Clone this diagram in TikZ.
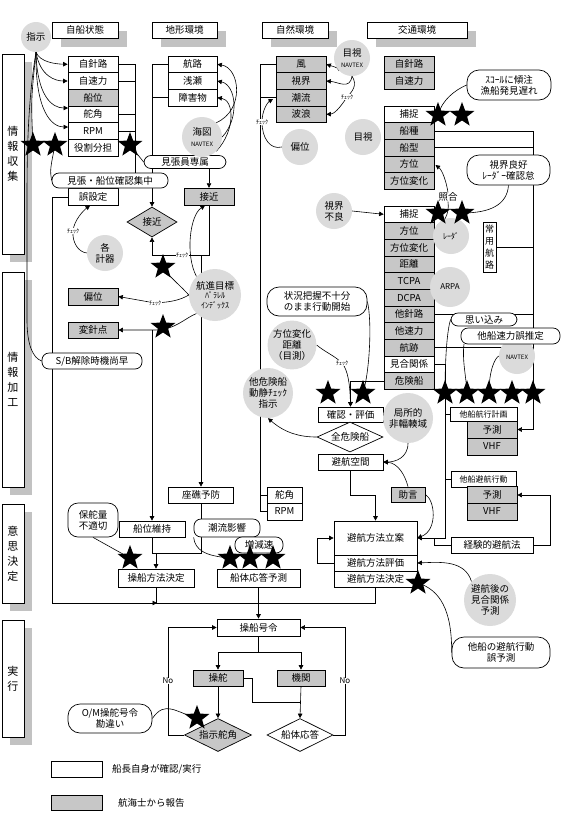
\documentclass[tikz,border=0pt]{standalone}
\usepackage{fontspec}
\newfontfamily\jp{Noto Sans CJK JP}
\usetikzlibrary{shapes.geometric,arrows.meta}
\pgfdeclarelayer{back}
\pgfdeclarelayer{lines}
\pgfsetlayers{back,lines,main}
\definecolor{gfill}{gray}{0.78}
\definecolor{bfill}{gray}{0.86}
\definecolor{sfill}{gray}{0.76}
\newcommand\jpA{\jp\fontsize{9.5}{11}\selectfont}
\newcommand\jpB{\jp\fontsize{11}{15}\selectfont}
\newcommand\jpS{\jp\fontsize{8}{9.5}\selectfont}
\newcommand\jpT{\jp\fontsize{6}{7}\selectfont}
\begin{document}
\begin{tikzpicture}[x=1pt,y=-1pt,
 ln/.style={line width=0.6pt},
 arr/.style={ln,-{Triangle[length=4.5pt,width=4.5pt]}},
 bx/.style={draw,line width=0.7pt,fill=white,inner sep=0pt,minimum height=16.7,minimum width=50,font=\jpA},
 gb/.style={bx,fill=gfill},
 hd/.style={bx,minimum height=16},
 sbx/.style={draw,line width=0.7pt,fill=white,inner sep=0pt,minimum width=22,align=center,font=\jpB},
 rb/.style={draw,line width=0.7pt,fill=white,rounded corners=7pt,inner sep=0pt,font=\jpA,align=center},
 rbb/.style={rb,rounded corners=12pt},
 cb/.style={circle,fill=bfill,inner sep=0pt,font=\jpA,align=center},
 stl/.style={star,star points=5,star point ratio=2.4,fill=black,inner sep=0pt,minimum size=26},
 dm/.style={diamond,draw,line width=0.7pt,fill=white,inner sep=0pt,aspect=2,font=\jpA},
 lbl/.style={font=\jpT,fill=white,inner sep=0.5pt},
 txt/.style={font=\jpA,inner sep=0pt}
]
\useasboundingbox (0,0) rectangle (562,820);

% ---------- side bar and shadows ----------
\begin{pgfonlayer}{back}
\fill[white] (0,0) rectangle (562,820);
\fill[sfill] (10,62) rectangle (32,262);
\fill[sfill] (10,280) rectangle (32,495);
\fill[sfill] (10,512) rectangle (32,611);
\fill[sfill] (10,628) rectangle (32,745);
\fill[sfill] (61,31) rectangle (127,47);
\fill[sfill] (161,31) rectangle (226,47);
\fill[sfill] (271,31) rectangle (337,47);
\fill[sfill] (376,31) rectangle (476,47);
\node[sbx,minimum height=200] (v1) at (13,154) {情\\報\\収\\集};
\node[sbx,minimum height=215] (v2) at (13,379.5) {情\\報\\加\\工};
\node[sbx,minimum height=99] (v3) at (13,553.5) {意\\思\\決\\定};
\node[sbx,minimum height=117] (v4) at (13,678.5) {実\\行};
\end{pgfonlayer}

% ---------- headers ----------
\node[hd,minimum width=66] (h1) at (85,30) {自船状態};
\node[hd,minimum width=65] (h2) at (184.5,30) {地形環境};
\node[hd,minimum width=66] (h3) at (295,30) {自然環境};
\node[hd,minimum width=100] (h4) at (417,30) {交通環境};

% ---------- own ship ----------
\node[bx] (s1) at (93,64.3) {自針路};
\node[bx] (s2) at (93,81) {自速力};
\node[gb] (s3) at (93,97.7) {船位};
\node[bx] (s4) at (93,114.3) {舵角};
\node[bx] (s5) at (93,131) {RPM};
\node[bx] (s6) at (93,147.7) {役割分担};

% ---------- terrain ----------
\node[bx,minimum width=49] (t1) at (192.5,64.3) {航路};
\node[bx,minimum width=49] (t2) at (192.5,81) {浅瀬};
\node[bx,minimum width=49] (t3) at (192.5,97.7) {障害物};

% ---------- nature ----------
\node[gb] (n1) at (301,64.3) {風};
\node[gb] (n2) at (301,81) {視界};
\node[gb] (n3) at (301,97.7) {潮流};
\node[gb] (n4) at (301,114.3) {波浪};

% ---------- traffic ----------
\node[gb] (o1) at (409,64.3) {自針路};
\node[gb] (o2) at (409,81) {自速力};
\node[bx] (u1) at (409,114.3) {捕捉};
\node[gb] (u2) at (409,131) {船種};
\node[gb] (u3) at (409,147.7) {船型};
\node[gb] (u4) at (409,164.3) {方位};
\node[gb] (u5) at (409,181) {方位変化};
\node[bx] (l1) at (409,214.3) {捕捉};
\node[gb] (l2) at (409,231) {方位};
\node[gb] (l3) at (409,247.7) {方位変化};
\node[gb] (l4) at (409,264.3) {距離};
\node[gb] (l5) at (409,281) {TCPA};
\node[gb] (l6) at (409,297.7) {DCPA};
\node[gb] (l7) at (409,314.3) {他針路};
\node[gb] (l8) at (409,331) {他速力};
\node[gb] (l9) at (409,347.7) {航跡};
\node[bx] (l10) at (409,364.3) {見合関係};
\node[gb] (l11) at (409,381) {危険船};
\node[bx,minimum width=13,minimum height=50,align=center,font=\jp\fontsize{9}{12}\selectfont] (jy) at (489.5,247) {常\\用\\航\\路};

\node[bx,minimum width=67,minimum height=14,font=\jpS] (k1) at (483.5,414) {他船航行計画};
\node[gb] (p1) at (492,429.5) {予測};
\node[gb] (p2) at (492,446.5) {VHF};
\node[bx,minimum width=65,minimum height=16,font=\jpS] (k2) at (483.5,479) {他船避航行動};
\node[gb] (q1) at (492,495) {予測};
\node[gb] (q2) at (492,511.5) {VHF};
\node[bx,minimum width=82,minimum height=16] (ke) at (492,545) {経験的避航法};

% ---------- evaluation ----------
\node[bx,minimum width=65,minimum height=15] (ce) at (350.5,414.5) {確認・評価};
\node[dm,minimum width=66,minimum height=30] (dz) at (350,437) {全危険船};
\node[bx,minimum width=65,minimum height=16] (av) at (350.5,462) {避航空間};
\node[gb,minimum width=34,minimum height=15] (jg) at (408,494.5) {助言};
\node[bx,minimum width=83,minimum height=34] (a1) at (375.5,538) {避航方法立案};
\node[bx,minimum width=83,minimum height=16] (a2) at (375.5,563) {避航方法評価};
\node[bx,minimum width=83,minimum height=16] (a3) at (375.5,579) {避航方法決定};

% ---------- left middle ----------
\node[bx] (gs) at (93,197) {誤設定};
\node[gb] (sk) at (209,196.5) {接近};
\node[dm,fill=gfill,minimum width=50,minimum height=30] (dA) at (152,222) {接近};
\node[gb] (hp) at (93,296.5) {偏位};
\node[gb,minimum height=16] (hn) at (93,330) {変針点};

\node[bx,minimum width=65,minimum height=16] (zy) at (201,495) {座礁予防};
\node[bx,minimum width=35,minimum height=16] (rd) at (284.5,495) {舵角};
\node[bx,minimum width=35,minimum height=17] (rr) at (284.5,511.5) {RPM};
\node[bx,minimum width=66,minimum height=16] (ip) at (152,529) {船位維持};
\node[bx,minimum width=76,minimum height=18] (sm) at (156,578) {操船方法決定};
\node[bx,minimum width=83,minimum height=18] (hr) at (258.5,578) {船体応答予測};

% ---------- execution ----------
\node[bx,minimum width=83,minimum height=17] (sc) at (258.5,627.5) {操船号令};
\node[gb,minimum width=50,minimum height=16] (sd) at (218,678) {操舵};
\node[gb,minimum width=48,minimum height=16] (ek) at (301,678) {機関};
\node[dm,fill=gfill,minimum width=67,minimum height=33] (dj) at (218,735) {指示舵角};
\node[dm,minimum width=66,minimum height=33] (dt) at (300,735) {船体応答};

% ---------- legend ----------
\node[bx,minimum width=51,minimum height=16] (lg1) at (76.5,769) {};
\node[txt,anchor=west] (lt1) at (112,769) {船長自身が確認/実行};
\node[gb,minimum width=51,minimum height=15] (lg2) at (76.5,802.5) {};
\node[txt,anchor=west] (lt2) at (118,802.5) {航海士から報告};

% ---------- bubbles ----------
\node[cb,minimum size=30] (si) at (36,37) {指示};
\node[rb,minimum width=82,minimum height=13] (mz) at (185,162) {見張員専属};
\node[rb,minimum width=116,minimum height=15] (jh) at (110,180.5) {見張・船位確認集中};
\node[cb,minimum size=36] (kk) at (105,253) {各\\計器};
\node[cb,minimum size=52,font=\jpS] (ks) at (215,295) {\jpA 航進目標\\ﾊﾟﾗﾚﾙ\\ｲﾝﾃﾞｯｸｽ};
\node[rb,minimum width=100,minimum height=16] (sb) at (92,361) {S/B解除時機尚早};
\node[cb,minimum size=40] (kz) at (202,137) {海図\\{\jpT NAVTEX}};
\node[cb,minimum size=36] (mn) at (352,58) {目視\\{\jpT NAVTEX}};
\node[cb,minimum size=36] (hb) at (300,147) {偏位};
\node[cb,minimum size=36] (mk) at (363,137) {目視};
\node[cb,minimum size=36] (sfr) at (334,211) {視界\\不良};
\node[cb,minimum size=36,font=\jpS] (rdr) at (451,236) {ﾚｰﾀﾞ};
\node[cb,minimum size=40,font=\jpS] (ap) at (450,287) {ARPA};
\node[rbb,minimum width=84,minimum height=30] (sq) at (509,85) {ｽｺｰﾙに傾注\\漁船発見遅れ};
\node[rbb,minimum width=83,minimum height=30] (sr) at (508.5,170) {視界良好\\ﾚｰﾀﾞｰ確認怠};
\node[txt] (sg) at (448,197) {照合};
\node[cb,minimum size=36,font=\jpT] (nv) at (517,356) {\\NAVTEX};
\node[rb,minimum width=66,minimum height=13] (oi) at (484,319.5) {思い込み};
\node[rb,minimum width=99,minimum height=16] (ts) at (510.5,336) {他船速力誤推定};
\node[rbb,minimum width=100,minimum height=29] (jk) at (317,301.5) {状況把握不十分\\のまま行動開始};
\node[cb,minimum size=48] (hk) at (292,345) {方位変化\\距離\\（目測）};
\node[cb,minimum size=50] (tk) at (268,393) {他危険船\\動静ﾁｪｯｸ\\指示};
\node[cb,minimum size=50] (kt) at (408,418) {局所的\\非輻輳域};
\node[cb,minimum size=52] (hg) at (490,600) {避航後の\\見合関係\\予測};
\node[rbb,minimum width=98,minimum height=31] (ty) at (501,652.5) {他船の避航行動\\誤予測};
\node[rbb,minimum width=50,minimum height=34,rounded corners=10pt] (hq) at (93,520) {保舵量\\不適切};
\node[rb,minimum width=66,minimum height=18] (cr) at (227,528) {潮流影響};
\node[rb,minimum width=48,minimum height=16] (zg) at (259,545) {増減速};
\node[rbb,minimum width=84,minimum height=29] (om) at (110,718.5) {O/M操舵号令\\勘違い};

% ---------- check labels ----------
\node[lbl] (c1) at (73,231) {ﾁｪｯｸ};
\node[lbl] (c2) at (182,255) {ﾁｪｯｸ};
\node[lbl] (c3) at (155,303) {ﾁｪｯｸ};
\node[lbl] (c4) at (262,122) {ﾁｪｯｸ};
\node[lbl] (c5) at (347,97) {ﾁｪｯｸ};
\node[lbl] (c6) at (342,363) {ﾁｪｯｸ};
\node[font=\jpS,fill=white,inner sep=0.5pt] (no1) at (168,681) {No};
\node[font=\jpS,fill=white,inner sep=0.5pt] (no2) at (345,681) {No};

% ---------- stars ----------
\node[stl] (x1) at (33,145) {};
\node[stl] (x2) at (55,145) {};
\node[stl] (x3) at (130,145) {};
\node[stl] (x4) at (163,267) {};
\node[stl] (x5) at (163,327) {};
\node[stl] (x6) at (438,115) {};
\node[stl] (x7) at (462,115) {};
\node[stl] (x8) at (438,213) {};
\node[stl] (x9) at (462,213) {};
\node[stl] (y1) at (328,393) {};
\node[stl] (y2) at (363,393) {};
\node[stl] (y3) at (445,393) {};
\node[stl] (y4) at (467,393) {};
\node[stl] (y5) at (489,393) {};
\node[stl] (y6) at (512,393) {};
\node[stl] (y7) at (533,393) {};
\node[stl] (y8) at (130,558) {};
\node[stl] (y9) at (230,558) {};
\node[stl] (z1) at (250,558) {};
\node[stl] (z2) at (273,558) {};
\node[stl] (z3) at (418,583) {};
\node[stl] (z4) at (197,718) {};

% ---------- connectors ----------
\begin{pgfonlayer}{lines}
% own ship right side
\draw[ln] (s1.east) -- (135,64.3) -- (jh.north -| 135,0);
\draw[ln] (s2.east) -- (135,81);
\draw[ln] (s4.east) -- (135,114.3);
\draw[ln] (s5.east) -- (135,131);
% terrain left side
\draw[arr] (t1.west) -- (152,64.3) -- (dA.north);
\draw[ln] (t3.west) -- (152,97.7);
% nature left side
\draw[ln] (n1.west) -- (260,64.3) -- (260,512);
\draw[ln] (n3.west) -- (260,97.7);
\draw[ln] (rd.west) -- (260,495);
\draw[ln] (rr.west) -- (260,511.5);
% traffic right side
\draw[arr] (u2.east) -| (533,429.5) -- (p1.east);
\draw[ln] (u3.east) -- (533,147.7);
\draw[ln] (jy.east) -- (533,247);
\draw[ln] (l7.east) -- (533,314.3);
\draw[ln] (l9.east) -- (533,347.7);
\draw[arr] (l10.east) -| (445,538) -- (a1.east);
\draw[ln] (k1.west) -- (445,414);
\draw[ln] (k2.west) -- (445,479);
\draw[ln] (ke.west) -- (434,545) -- (434,538);
\draw[arr] (ke.east) -- (550,545) -- (550,495) -- (q1.east);
\draw[arr] (sfr.east) -- (l1.west);
% evaluation
\draw[arr] (l11.west) -| (ce.north);
\draw[arr] (av.south) -- (350.5,495) -| (a1.north);
\draw[arr] (a2.west) -- (317,563) |- (a1.west);
\draw[ln] (a3.south) -- (375.5,603) -- (52,603) -- (52,197) -- (gs.west);
\draw[arr] (52,603) -- (157,603);
\draw[ln] (sm.south) -- (156,603);
\draw[arr] (hr.south) -- (sc.north);
% approach
\draw[arr] (mz.south -| sk.north) -- (sk.north);
\draw[arr] (sk.south) -- (209,255) -- (152,255) -- (dA.south);
\draw[arr] (201,255) -- (zy.north);
\draw[arr] (152,330) -- (ip.north);
\draw[ln] (ip.south) -- (152,553) -- (201,553) -- (zy.south);
\draw[arr] (156,553) -- (sm.north);
% execution
\draw[ln] (sc.south) -- (258.5,652);
\draw[ln] (218,652) -- (301,652);
\draw[arr] (218,652) -- (sd.north);
\draw[arr] (301,652) -- (ek.north);
\draw[arr] (sd.south) -- (dj.north);
\draw[ln] (sd.east) -- (252,678) -- (252,702) -- (301,702);
\draw[arr] (ek.south) -- (dt.north);
\draw[arr] (dj.west) -| (168,627.5) -- (sc.west);
\draw[arr] (dt.east) -| (345,627.5) -- (sc.east);
% instruction bubble
\draw[arr] (si.south) .. controls (40,62) and (55,64) .. (s1.west);
\draw[arr] (si.south) .. controls (40,76) and (55,81) .. (s2.west);
\draw[arr] (si.south) .. controls (37,96) and (52,108) .. (68,108);
\draw[arr] (si.south) .. controls (35,112) and (52,127) .. (68,127);
\draw[ln] (si.south) .. controls (31,100) .. (x1.center);
\draw[ln] (si.south) .. controls (28,100) and (27,150) .. (27,200) -- (27,320) .. controls (27,345) and (33,358) .. (sb.west);
\draw[ln] (jh.west) .. controls (50,170) .. (x2.center);
\draw[ln] (mz.west) -- (x3.center);
% gauges
\draw[arr] (kk.west) .. controls (78,252) and (72,242) .. (c1.center) .. controls (74,220) and (84,210) .. (90,205.5);
% pointer bubble
\draw[arr] (ks.north west) .. controls (185,255) and (190,215) .. (205,205.5);
\draw[ln] (ks.west) .. controls (180,285) and (170,278) .. (x4.center);
\draw[arr] (ks.west) .. controls (180,300) and (172,302) .. (c3.center) -- (hp.east);
\draw[arr] (ks.south west) .. controls (185,318) and (175,330) .. (155,330) -- (hn.east);
% chart bubble
\draw[arr] (kz.north east) .. controls (245,110) and (240,68) .. (t1.east);
\draw[arr] (kz.east) .. controls (240,118) and (236,85) .. (t2.east);
\draw[arr] (kz.south east) .. controls (236,130) and (234,100) .. (t3.east);
% visual / navtex
\draw[arr] (mn.south west) .. controls (338,68) .. (n1.east);
\draw[arr] (mn.south) .. controls (350,90) and (338,82) .. (n2.east);
\draw[arr] (mn.south) .. controls (358,85) and (352,92) .. (c5.center) .. controls (340,108) and (334,114) .. (n4.east);
\draw[arr] (hb.west) .. controls (270,150) and (262,138) .. (c4.center) .. controls (262,110) and (268,102) .. (273,99);
% traffic curves
\draw[ln] (sq.west) .. controls (455,90) and (442,100) .. (x6.center);
\draw[ln] (sr.south) .. controls (507,205) and (490,213) .. (x9.center);
\draw[arr] (sg.north) .. controls (446,180) and (442,170) .. (435.5,165);
\draw[arr] (sg.south) .. controls (450,215) and (442,224) .. (435.5,229);
\draw[ln] (oi.west) .. controls (447,330) and (445,360) .. (y3.center);
\draw[ln] (464,344) .. controls (462,360) and (466,375) .. (y4.center);
\draw[ln] (nv.west) .. controls (495,358) and (489,370) .. (y5.center);
\draw[ln] (jk.east) .. controls (372,320) and (370,370) .. (y2.center);
\draw[arr] (hk.east) .. controls (325,352) and (335,356) .. (c6.center) .. controls (348,370) and (350,385) .. (350.5,406.5);
\draw[arr] (dz.west) .. controls (300,437) and (285,433) .. (tk.south);
\draw[arr] (kt.south) .. controls (408,458) and (395,462) .. (av.east);
\draw[arr] (jg.north) .. controls (405,475) and (398,463) .. (av.east);
\draw[arr] (jg.east) .. controls (435,500) and (438,530) .. (a1.east);
\draw[arr] (hg.north west) .. controls (465,560) and (440,562) .. (a2.east);
\draw[ln] (ty.west) .. controls (452,610) and (440,590) .. (z3.center);
% bottom bubbles
\draw[ln] (cr.south west) .. controls (195,550) and (205,556) .. (y9.center);
\draw[ln] (hq.south) -- (y8.center);
\draw[ln] (om.east) .. controls (165,700) and (175,712) .. (z4.center);
\end{pgfonlayer}
\end{tikzpicture}
\end{document}
